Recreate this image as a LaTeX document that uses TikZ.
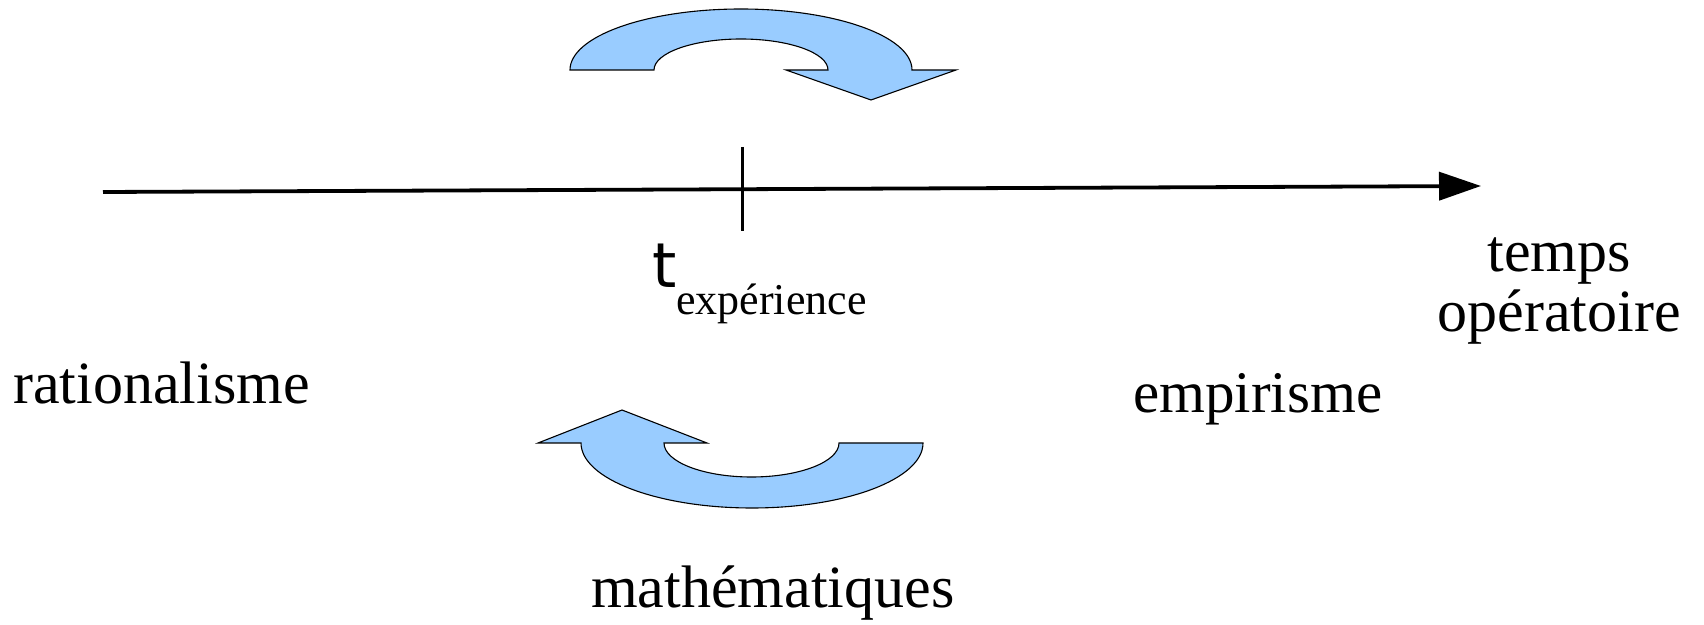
\documentclass[tikz,border=0pt]{standalone}
\usepackage{fontspec}
\setmainfont{Liberation Serif}
\newfontfamily\sansT{DejaVu Sans}
\usetikzlibrary{arrows.meta}
\definecolor{arrowblue}{HTML}{99CCFF}
\tikzset{
  txt/.style={inner sep=0pt, anchor=base west, font=\fontsize{60}{60}\selectfont},
  bent/.style={fill=arrowblue, draw=black, line width=1.1pt, line join=miter},
  axisline/.style={line width=3.8pt, -{Triangle[length=42pt,width=28pt]}},
}
\begin{document}
\begin{tikzpicture}[x=1pt,y=1pt]
\fill[white] (0,0) rectangle (1704,624);
\useasboundingbox (0,0) rectangle (1704,624);

% axis
\coordinate (axisL) at (103,432);
\coordinate (axisR) at (1481,438);
\draw[axisline] (axisL) -- (axisR);
\coordinate (tickT) at (742,477);
\coordinate (tickB) at (742,393);
\draw[line width=3pt] (tickT) -- (tickB);

% top bent arrow
\draw[bent] (570,554) arc[start angle=180,end angle=0,x radius=171pt,y radius=61pt]
  -- (956,554) -- (871,524) -- (786,554) -- (828,554)
  arc[start angle=0,end angle=180,x radius=87pt,y radius=31pt] -- cycle;

% bottom bent arrow
\draw[bent] (581,181) arc[start angle=180,end angle=360,x radius=171pt,y radius=65pt]
  -- (839,181)
  arc[start angle=0,end angle=-180,x radius=87.5pt,y radius=34pt]
  -- (707,181) -- (622,214) -- (538,181) -- cycle;

% texts
\node[txt, font=\sansT\fontsize{62}{62}\selectfont] (t) at (652,336) {t};
\node[txt, font=\fontsize{44}{44}\selectfont] (exp) at (676,309) {expérience};
\node[txt, anchor=base] (temps) at (1559,352) {temps};
\node[txt, anchor=base] (operatoire) at (1559,292) {opératoire};
\node[txt] (rationalisme) at (13,220) {rationalisme};
\node[txt, font=\fontsize{59}{59}\selectfont] (empirisme) at (1133,211) {empirisme};
\node[txt] (maths) at (591,17) {mathématiques};
\end{tikzpicture}
\end{document}
